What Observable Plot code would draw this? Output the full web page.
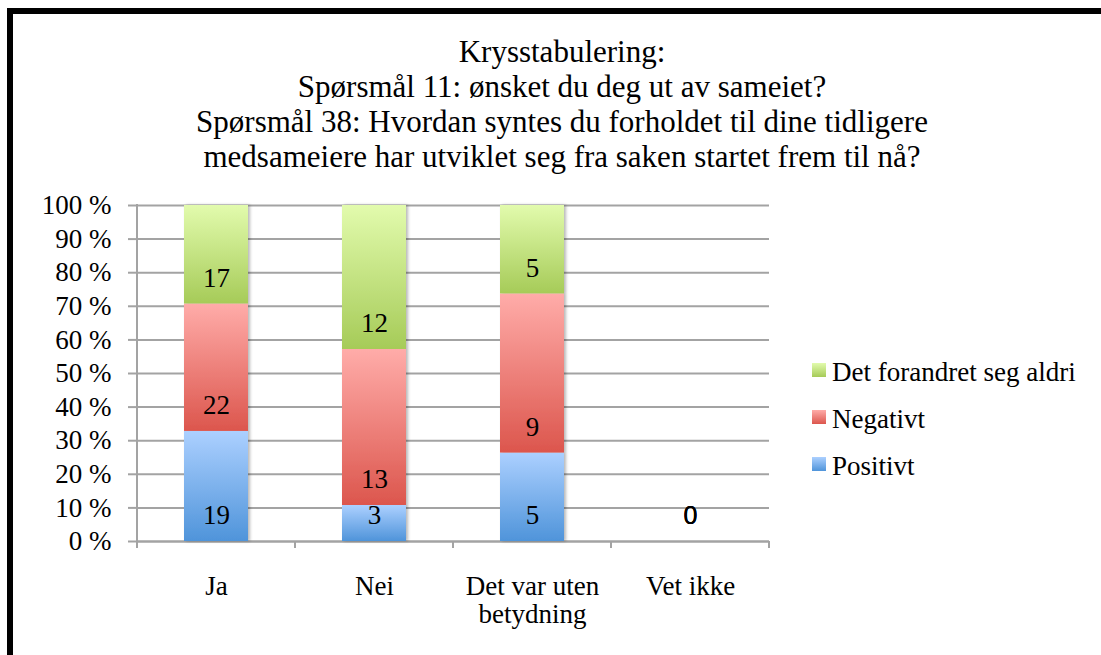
<!DOCTYPE html>
<html>
<head>
<meta charset="utf-8">
<script src="https://cdn.jsdelivr.net/npm/d3@7"></script>
<script src="https://cdn.jsdelivr.net/npm/@observablehq/plot@0.6"></script>
<style>
  html, body { margin: 0; padding: 0; background: #fff; width: 1101px; height: 655px; overflow: hidden; }
  #frame { position: absolute; left: 7px; top: 8px; width: 1300px; height: 900px; border-left: 6px solid #000; border-top: 6px solid #000; box-sizing: border-box; }
  #title { position: absolute; left: 12px; top: 34px; width: 1100px; text-align: center; font-family: "Liberation Serif", serif; font-size: 31px; line-height: 35px; color: #000; }
  #chart { position: absolute; left: 0; top: 180px; }
  #legend { position: absolute; left: 812px; top: 0; font-family: "Liberation Serif", serif; font-size: 27px; color: #000; }
  .row { position: absolute; left: 0; height: 27px; line-height: 27px; white-space: nowrap; }
  .sw { position: absolute; left: 0; top: 4px; width: 14px; height: 14px; }
  .lt { position: absolute; left: 20px; top: 0; }
</style>
</head>
<body>
<div id="frame"></div>
<div id="title"></div>
<div id="chart"></div>
<div id="legend"></div>
<script>
// ---- data ----
const titleLines = [
  "Krysstabulering:",
  "Spørsmål 11: ønsket du deg ut av sameiet?",
  "Spørsmål 38: Hvordan syntes du forholdet til dine tidligere",
  "medsameiere har utviklet seg fra saken startet frem til nå?"
];
const categories = ["Ja", "Nei", "Det var uten betydning", "Vet ikke"];
const categoryLabels = ["Ja", "Nei", "Det var uten\nbetydning", "Vet ikke"];
const series = ["Positivt", "Negativt", "Det forandret seg aldri"];
const positivt = [19, 3, 5, 0];
const negativt = [22, 13, 9, 0];
const forandret = [17, 12, 5, 0];
const yTicks = [0, 10, 20, 30, 40, 50, 60, 70, 80, 90, 100];
const gradTop = ["#acd0ff", "#ffaca9", "#e2fbad"];
const gradBottom = ["#4f94da", "#dc564d", "#a6cb58"];

// ---- build table ----
const seriesValues = [positivt, negativt, forandret];
const table = [];
categories.forEach((c, i) => {
  const total = seriesValues.reduce((s, arr) => s + arr[i], 0);
  series.forEach((s, j) => {
    const v = seriesValues[j][i];
    table.push({cat: c, series: s, value: v, share: total ? v / total * 100 : 0, total});
  });
});
const gradIds = series.map((s, j) => "grad" + j);

document.getElementById("title").innerHTML = titleLines.map(t => `<div>${t}</div>`).join("");

const gray = "#a3a3a3";

const defsMark = () => {
  const defs = d3.create("svg:defs");
  series.forEach((s, j) => {
    const g = defs.append("linearGradient").attr("id", gradIds[j])
      .attr("x1", 0).attr("y1", 0).attr("x2", 0).attr("y2", 1);
    g.append("stop").attr("offset", "0%").attr("stop-color", gradTop[j]);
    g.append("stop").attr("offset", "100%").attr("stop-color", gradBottom[j]);
  });
  const f = defs.append("filter").attr("id", "shadow").attr("x", "-10%").attr("y", "-10%").attr("width", "130%").attr("height", "120%");
  f.append("feDropShadow").attr("dx", 2).attr("dy", 0).attr("stdDeviation", 1.6)
    .attr("flood-color", "#000").attr("flood-opacity", 0.28);
  return defs.node();
};

const axisLines = (index, scales) => {
  const {x, y} = scales;
  const g = d3.create("svg:g").attr("stroke", gray).attr("stroke-width", 2).attr("fill", "none");
  const x0 = x.range()[0];
  const y0 = y(0), y1 = y(100);
  g.append("line").attr("x1", x0).attr("x2", x0).attr("y1", y1 - 1).attr("y2", y0 + 7);
  const half = (x.step() - x.bandwidth()) / 2;
  const bounds = categories.map(c => x(c) - half).concat([x(categories[categories.length - 1]) + x.bandwidth() + half]);
  bounds.slice(1).forEach(b => {
    g.append("line").attr("x1", b).attr("x2", b).attr("y1", y0).attr("y2", y0 + 7);
  });
  return g.node();
};

const plot = Plot.plot({
  width: 1101,
  height: 475,
  marginLeft: 137,
  marginRight: 332,
  marginTop: 25,
  marginBottom: 114,
  style: {fontFamily: "Liberation Serif, serif", fontSize: "27px", color: "#000", background: "transparent", overflow: "visible"},
  x: {domain: categories, paddingInner: 0.595, paddingOuter: 0.2975, label: null},
  y: {domain: [0, 100], label: null},
  color: {domain: series, range: gradIds.map(id => `url(#${id})`)},
  marks: [
    defsMark,
    Plot.gridY(yTicks, {stroke: gray, strokeWidth: 2, strokeOpacity: 1}),
    Plot.axisY(yTicks, {tickSize: 9, tickPadding: 17, stroke: gray, strokeWidth: 2, strokeOpacity: 1, tickFormat: d => d + " %", label: null, fontSize: 27}),
    Plot.ruleY([0], {stroke: gray, strokeWidth: 2}),
    axisLines,
    Plot.barY(table, Plot.stackY({x: "cat", y: "share", z: "series", order: series, fill: "series"})),
    Plot.text(table.filter(d => d.total > 0), Plot.stackY1({x: "cat", y: "share", z: "series", order: series, text: d => String(d.value), dy: -26, fontSize: 27, fill: "#000"})),
    Plot.text(table.filter(d => d.total === 0), Plot.stackY1({x: "cat", y: "share", z: "series", order: series, text: d => String(d.value), dy: -26, fontSize: 25, fontFamily: "Liberation Sans, sans-serif", fill: "#000"})),
    Plot.axisX({tickSize: 0, tickPadding: 33, tickFormat: d => categoryLabels[categories.indexOf(d)], lineHeight: 1.05, fontSize: 27, label: null})
  ]
});
const barG = plot.querySelector('g[aria-label="bar"]');
if (barG) barG.setAttribute("filter", "url(#shadow)");
document.getElementById("chart").appendChild(plot);

// ---- legend (top row is the top of the stack) ----
const legend = document.getElementById("legend");
const legendTop = 359, legendStep = 47;
series.slice().reverse().forEach((s, k) => {
  const j = series.indexOf(s);
  const row = document.createElement("div");
  row.className = "row";
  row.style.top = (legendTop + k * legendStep) + "px";
  row.innerHTML = `<div class="sw" style="background:linear-gradient(${gradTop[j]}, ${gradBottom[j]})"></div><div class="lt">${s}</div>`;
  legend.appendChild(row);
});
</script>
</body>
</html>
